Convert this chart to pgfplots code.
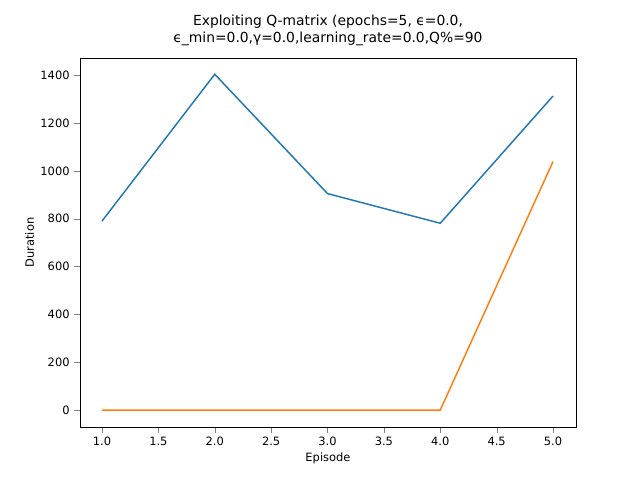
\documentclass[border=0pt]{standalone}
\usepackage{pgfplots}
\pgfplotsset{compat=1.18}
\usepackage{fontspec}
\setmainfont{DejaVu Sans}
\begin{document}
\begin{tikzpicture}
\begin{axis}[
  scale only axis, width=372pt, height=276.75pt,
  xmin=0.805, xmax=5.204, ymin=-71, ymax=1472,
  xtick={1,1.5,...,5}, ytick={0,200,...,1400},
  /pgf/number format/assume math mode=true,
  yticklabel style={/pgf/number format/1000 sep={}},
  xticklabel style={/pgf/number format/fixed,/pgf/number format/fixed zerofill,/pgf/number format/precision=1},
  scaled ticks=false,
  tick label style={font=\fontsize{8.6}{10}\selectfont},
  label style={font=\fontsize{8.6}{10}\selectfont},
  xlabel={Episode}, ylabel={Duration},
  xlabel style={yshift=2pt}, ylabel style={yshift=-2pt},
  title style={font=\fontsize{10.4}{12.5}\selectfont, align=center},
  title={Exploiting Q-matrix (epochs=5, ϵ=0.0,\\ϵ\_min=0.0,γ=0.0,learning\_rate=0.0,Q\%=90},
  tick align=outside, xtick pos=bottom, ytick pos=left,
  clip=false,
]
\addplot[color={rgb,255:red,31;green,119;blue,180}, line width=1.1pt] coordinates {(1,790)(2,1404)(3,905)(4,781)(5,1313)};
\addplot[color={rgb,255:red,255;green,127;blue,14}, line width=1.1pt] coordinates {(1,0)(2,0)(3,0)(4,0)(5,1039)};
\path (rel axis cs:-0.1613,-0.1436) rectangle (rel axis cs:1.129,1.1572);
\end{axis}
\end{tikzpicture}
\end{document}
